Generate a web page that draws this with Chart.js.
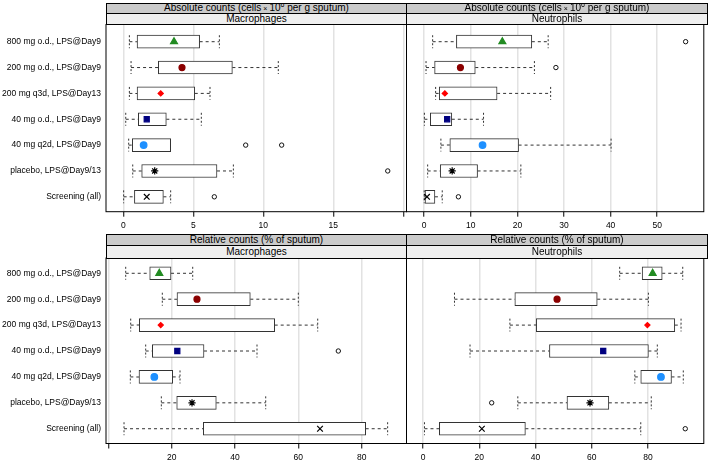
<!DOCTYPE html>
<html>
<head>
<meta charset="utf-8">
<script src="https://cdn.jsdelivr.net/npm/chart.js@4.4.1/dist/chart.umd.min.js"></script>
<style>
  body { margin: 0; width: 709px; height: 462px; position: relative; background: #fff; overflow: hidden;
         font-family: 'Liberation Sans', Arial, sans-serif; }
  canvas { position: absolute; left: 0; top: 0; }
  .strip { position: absolute; box-sizing: border-box; border: 1px solid #000; font-size: 10px; color: #000;
           white-space: nowrap; overflow: hidden; display: flex; align-items: center; justify-content: center;
           line-height: 1; }
  .dark { background: #cbcbcb; }
  .light { background: #efefef; }
  .strip sup { font-size: 7px; position: relative; top: -3px; vertical-align: baseline; line-height: 0; }
  .strip .times { font-size: 7px; margin: 0 2px; }
</style>
</head>
<body>
<canvas id="c1" width="709" height="462"></canvas>
<canvas id="c2" width="709" height="462"></canvas>
<canvas id="c3" width="709" height="462"></canvas>
<canvas id="c4" width="709" height="462"></canvas>

<div class="strip dark" style="left:105.5px;top:2.5px;width:302px;height:11.5px">Absolute counts (cells<span class="times">×</span>10<sup>6</sup>&nbsp;per g sputum)</div>
<div class="strip light" style="left:105.5px;top:13px;width:302px;height:12px">Macrophages</div>
<div class="strip dark" style="left:406px;top:2.5px;width:302px;height:11.5px">Absolute counts (cells<span class="times">×</span>10<sup>6</sup>&nbsp;per g sputum)</div>
<div class="strip light" style="left:406px;top:13px;width:302px;height:12px">Neutrophils</div>

<div class="strip dark" style="left:105.5px;top:233.5px;width:302px;height:12.5px">Relative counts (% of sputum)</div>
<div class="strip light" style="left:105.5px;top:245px;width:302px;height:13.5px">Macrophages</div>
<div class="strip dark" style="left:406px;top:233.5px;width:302px;height:12.5px">Relative counts (% of sputum)</div>
<div class="strip light" style="left:406px;top:245px;width:302px;height:13.5px">Neutrophils</div>

<script>
// groups, top to bottom
const groups = [
    '800 mg o.d., LPS@Day9',
    '200 mg o.d., LPS@Day9',
    '200 mg q3d, LPS@Day13',
    '40 mg o.d., LPS@Day9',
    '40 mg q2d, LPS@Day9',
    'placebo, LPS@Day9/13',
    'Screening (all)'
];

// absolute counts, macrophages
const absMacLow  = [0.43, 0.55, 0.43, 0.17, 0.38, 0.67, 0.02];
const absMacQ1   = [0.98, 2.50, 0.98, 1.07, 0.64, 1.31, 0.79];
const absMacMed  = [3.62, 4.19, 2.67, 1.67, 1.45, 2.24, 1.67];
const absMacQ3   = [5.45, 7.79, 5.10, 3.07, 3.38, 6.69, 2.86];
const absMacHigh = [6.86, 11.07, 6.19, 5.57, 3.38, 7.86, 3.38];
const absMacOut  = [[], [], [], [], [8.74, 11.31], [18.89], [6.50]];
const absMacTicks = [0, 5, 10, 15, 20];
const absMacTickLabels = ['0', '5', '10', '15', ''];

// absolute counts, neutrophils
const absNeuLow  = [1.81, 0.39, 2.45, 0.04, 3.58, 0.74, 0.00];
const absNeuQ1   = [6.91, 2.23, 3.23, 1.31, 5.50, 3.44, 0.18];
const absNeuMed  = [16.77, 7.77, 4.43, 4.93, 12.52, 6.00, 0.60];
const absNeuQ3   = [23.09, 10.96, 15.64, 5.92, 20.25, 11.45, 2.30];
const absNeuHigh = [26.60, 23.65, 27.13, 12.73, 40.10, 20.74, 3.87];
const absNeuOut  = [[56.1], [28.26], [], [], [], [], [7.34]];
const absNeuTicks = [0, 10, 20, 30, 40, 50];
const absNeuTickLabels = ['0', '10', '20', '30', '40', '50'];

// relative counts, macrophages
const relMacLow  = [5.49, 17.05, 7.07, 11.80, 6.95, 16.74, 4.96];
const relMacQ1   = [13.07, 21.69, 9.79, 13.90, 9.69, 21.60, 30.00];
const relMacMed  = [16.10, 28.00, 16.55, 21.79, 14.53, 26.43, 66.85];
const relMacQ3   = [19.80, 44.84, 52.54, 30.22, 20.33, 34.10, 81.27];
const relMacHigh = [26.65, 60.00, 66.12, 46.95, 22.64, 49.70, 88.20];
const relMacOut  = [[], [], [], [72.63], [], [], []];
const relMacTicks = [0, 20, 40, 60, 80];
const relMacTickLabels = ['', '20', '40', '60', '80'];

// relative counts, neutrophils
const relNeuLow  = [69.96, 11.16, 30.88, 16.69, 75.35, 33.70, 0.48];
const relNeuQ1   = [77.95, 32.64, 40.27, 44.96, 77.46, 51.20, 5.77];
const relNeuMed  = [81.70, 47.67, 79.82, 64.10, 84.65, 59.40, 20.90];
const relNeuQ3   = [85.10, 61.97, 89.57, 80.18, 88.40, 66.10, 36.40];
const relNeuHigh = [92.40, 80.18, 91.80, 83.35, 92.60, 81.20, 77.46];
const relNeuOut  = [[], [], [], [], [], [24.4], [93.3]];
const relNeuTicks = [0, 20, 40, 60, 80];
const relNeuTickLabels = ['0', '20', '40', '60', '80'];

// median markers per group
const markerStyles = ['triangle', 'circle', 'rectRot', 'rect', 'circle', 'star', 'crossRot'];
const markerColors = ['#228B22', '#8B0000', '#FF0000', '#000080', '#1E90FF', '#000000', '#000000'];
const markerRadius = [4, 3, 2.6, 3.6, 3.3, 3.6, 4];

const FONT = "'Liberation Sans', Arial, sans-serif";
const W = 709, H = 462;

const framePlugin = {
    id: 'frame',
    afterDraw(chart) {
        const {ctx, chartArea: a} = chart;
        ctx.save();
        ctx.strokeStyle = '#000';
        ctx.lineWidth = 1;
        ctx.strokeRect(a.left, a.top, a.right - a.left, a.bottom - a.top);
        ctx.restore();
    }
};

function whisker(points, dash) {
    return {
        type: 'line', data: points, borderColor: '#333', borderWidth: 1, borderDash: dash,
        pointRadius: 0, fill: false, tension: 0, order: 2
    };
}

function buildDatasets(low, q1, med, q3, high, out) {
    let datasets = [];
    datasets.push({
        type: 'scatter',
        data: med.map((v, i) => ({x: v, y: i})),
        pointStyle: markerStyles, pointRadius: markerRadius,
        pointBackgroundColor: markerColors, pointBorderColor: markerColors, pointBorderWidth: 1.2,
        order: 0
    });
    let outPts = [];
    out.forEach((vals, i) => vals.forEach(v => outPts.push({x: v, y: i})));
    datasets.push({
        type: 'scatter', data: outPts, pointStyle: 'circle', pointRadius: 2.2,
        pointBackgroundColor: 'rgba(0,0,0,0)', pointBorderColor: '#111', pointBorderWidth: 1, order: 1
    });
    for (let i = 0; i < groups.length; i++) {
        if (low[i] < q1[i]) {
            datasets.push(whisker([{x: low[i], y: i}, {x: q1[i], y: i}], [3, 3]));
            datasets.push(whisker([{x: low[i], y: i - 0.25}, {x: low[i], y: i + 0.25}], [2, 2]));
        }
        if (high[i] > q3[i]) {
            datasets.push(whisker([{x: q3[i], y: i}, {x: high[i], y: i}], [3, 3]));
            datasets.push(whisker([{x: high[i], y: i - 0.25}, {x: high[i], y: i + 0.25}], [2, 2]));
        }
    }
    datasets.push({
        type: 'bar', indexAxis: 'y',
        data: q1.map((v, i) => ({y: i, x: [v, q3[i]]})),
        barThickness: 13, backgroundColor: '#fff', borderColor: '#333', borderWidth: 1,
        borderSkipped: false, order: 3
    });
    return datasets;
}

function makeChart(id, p) {
    const xAxisHeight = p.bottom > 300 ? H - p.bottom : 25;
    return new Chart(document.getElementById(id), {
        type: 'scatter',
        data: { datasets: buildDatasets(p.low, p.q1, p.med, p.q3, p.high, p.out) },
        options: {
            responsive: false,
            animation: false,
            layout: {
                padding: {
                    left: p.showY ? 0 : p.left,
                    right: W - p.right,
                    top: p.top,
                    bottom: H - p.bottom - xAxisHeight
                }
            },
            plugins: { legend: { display: false }, tooltip: { enabled: false }, title: { display: false } },
            scales: {
                x: {
                    type: 'linear', min: p.xMin, max: p.xMax, beginAtZero: false, offset: false,
                    border: { display: false },
                    grid: { color: '#e2e2e2', lineWidth: 1.5, tickColor: '#000', tickLength: 5, tickWidth: 1 },
                    ticks: {
                        autoSkip: false, maxRotation: 0, padding: 4, color: '#000',
                        font: { family: FONT, size: 8.5 },
                        callback: (v, i) => p.tickLabels[i]
                    },
                    afterBuildTicks: s => { s.ticks = p.ticks.map(v => ({value: v})); },
                    afterFit: s => { s.height = xAxisHeight; }
                },
                y: {
                    type: 'linear', min: p.yMin, max: p.yMax, reverse: true, offset: false,
                    border: { display: false },
                    grid: { display: false, drawTicks: false, offset: false },
                    ticks: {
                        display: p.showY, autoSkip: false, padding: 5, color: '#000',
                        font: { family: FONT, size: 8.5 },
                        callback: v => groups[v]
                    },
                    afterBuildTicks: s => { s.ticks = groups.map((g, i) => ({value: i})); },
                    afterFit: s => { s.width = p.showY ? p.left : 0; }
                }
            }
        },
        plugins: [framePlugin]
    });
}

makeChart('c1', {
    low: absMacLow, q1: absMacQ1, med: absMacMed, q3: absMacQ3, high: absMacHigh, out: absMacOut,
    ticks: absMacTicks, tickLabels: absMacTickLabels, xMin: -1.24, xMax: 20.23,
    left: 106, right: 406.5, top: 24.5, bottom: 211.7, yMin: -0.665, yMax: 6.576, showY: true
});
makeChart('c2', {
    low: absNeuLow, q1: absNeuQ1, med: absNeuMed, q3: absNeuQ3, high: absNeuHigh, out: absNeuOut,
    ticks: absNeuTicks, tickLabels: absNeuTickLabels, xMin: -3.8, xMax: 60.0,
    left: 406.5, right: 707, top: 24.5, bottom: 211.7, yMin: -0.665, yMax: 6.576, showY: false
});
makeChart('c3', {
    low: relMacLow, q1: relMacQ1, med: relMacMed, q3: relMacQ3, high: relMacHigh, out: relMacOut,
    ticks: relMacTicks, tickLabels: relMacTickLabels, xMin: -0.73, xMax: 94.16,
    left: 106, right: 406.5, top: 258, bottom: 443.5, yMin: -0.59, yMax: 6.57, showY: true
});
makeChart('c4', {
    low: relNeuLow, q1: relNeuQ1, med: relNeuMed, q3: relNeuQ3, high: relNeuHigh, out: relNeuOut,
    ticks: relNeuTicks, tickLabels: relNeuTickLabels, xMin: -5.92, xMax: 99.9,
    left: 406.5, right: 707, top: 258, bottom: 443.5, yMin: -0.59, yMax: 6.57, showY: false
});
</script>
</body>
</html>
